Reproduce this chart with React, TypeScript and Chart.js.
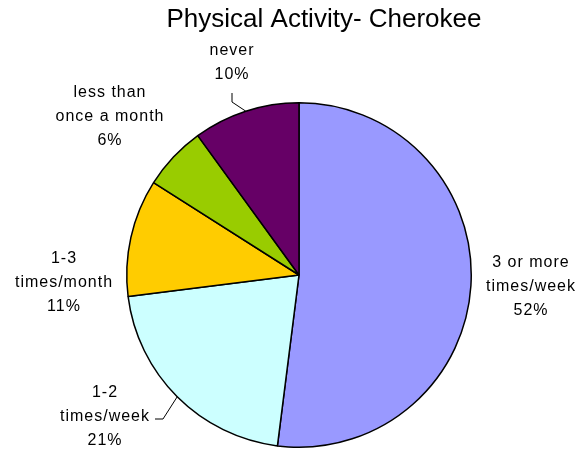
import React, { useEffect, useRef } from "react";
import { Chart, registerables } from "chart.js";

Chart.register(...registerables);

const TITLE = "Physical Activity- Cherokee";
const categories: string[][] = [
  ["3 or more", "times/week"],
  ["1-2", "times/week"],
  ["1-3", "times/month"],
  ["less than", "once a month"],
  ["never"],
];
const values: number[] = [52, 21, 11, 6, 10];
const colors: string[] = ["#9999FF", "#CCFFFF", "#FFCC00", "#99CC00", "#660066"];

// layout: label block centre offsets from pie centre (px)
const labelOffsets: [number, number][] = [
  [232, 12],
  [-194, 142],
  [-235, 8],
  [-189, -158],
  [-67, -212],
];
// leader lines: [start, elbow] relative to label centre, or null
const leaders: ([number, number][] | null)[] = [
  null,
  [[50, 2], [58, 2]],
  null,
  null,
  [[0, 30], [0, 39]],
];

const FONT = '"Liberation Sans", Arial, sans-serif';

const labelPlugin = {
  id: "pieLabels",
  afterDraw(chart: any) {
    const ctx: CanvasRenderingContext2D = chart.ctx;
    const meta = chart.getDatasetMeta(0);
    const total = values.reduce((a, b) => a + b, 0);
    ctx.save();
    // title
    ctx.fillStyle = "#000";
    ctx.font = `26px ${FONT}`;
    ctx.textAlign = "center";
    ctx.textBaseline = "middle";
    (ctx as any).letterSpacing = "0px";
    ctx.fillText(TITLE, 324, 20);

    ctx.font = `16px ${FONT}`;
    (ctx as any).letterSpacing = "1px";
    meta.data.forEach((arc: any, i: number) => {
      const cx = arc.x;
      const cy = arc.y;
      const r = arc.outerRadius;
      const mid = (arc.startAngle + arc.endAngle) / 2;
      const lx = cx + labelOffsets[i][0];
      const ly = cy + labelOffsets[i][1];
      const lines = [...categories[i], Math.round((values[i] / total) * 100) + "%"];
      const lh = 24;
      const y0 = ly - ((lines.length - 1) * lh) / 2;
      lines.forEach((t, k) => ctx.fillText(t, lx, y0 + k * lh));
      const ld = leaders[i];
      if (ld) {
        ctx.beginPath();
        ctx.strokeStyle = "#000";
        ctx.lineWidth = 1;
        ctx.moveTo(lx + ld[0][0], ly + ld[0][1]);
        ctx.lineTo(lx + ld[1][0], ly + ld[1][1]);
        ctx.lineTo(cx + Math.cos(mid) * r, cy + Math.sin(mid) * r);
        ctx.stroke();
      }
    });
    ctx.restore();
  },
};

export default function App() {
  const ref = useRef<HTMLCanvasElement>(null);
  useEffect(() => {
    const chart = new Chart(ref.current!, {
      type: "pie",
      data: {
        labels: categories.map((c) => c.join(" ")),
        datasets: [
          {
            data: values,
            backgroundColor: colors,
            borderColor: "#000",
            borderWidth: 1.5,
          },
        ],
      },
      options: {
        responsive: false,
        animation: false,
        devicePixelRatio: 1,
        layout: { padding: { left: 126, right: 114, top: 102, bottom: 3 } },
        plugins: {
          legend: { display: false },
          title: { display: false },
          tooltip: { enabled: false },
        },
      },
      plugins: [labelPlugin],
    });
    return () => chart.destroy();
  }, []);
  return (
    <div style={{ position: "fixed", left: 0, top: 0, width: 586, height: 451, background: "#fff" }}>
      <canvas ref={ref} width={586} height={451} />
    </div>
  );
}
